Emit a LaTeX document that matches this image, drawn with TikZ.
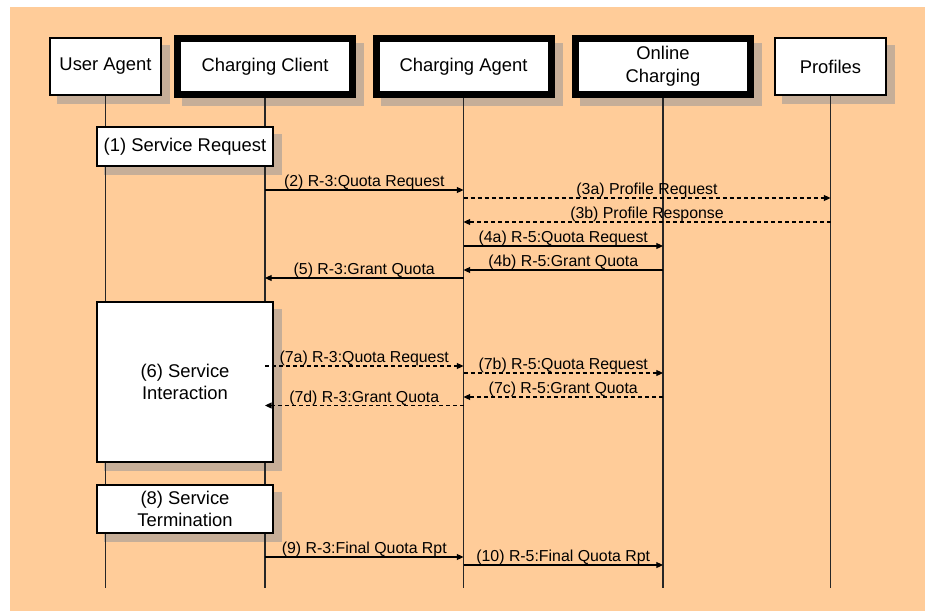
\documentclass[tikz,border=0pt]{standalone}
\usepackage{fontspec}
\setmainfont{Liberation Sans}
\usepackage{xcolor}
\usetikzlibrary{arrows.meta}
\definecolor{peach}{RGB}{255,204,153}
\definecolor{shadowtan}{RGB}{198,174,152}
\pgfdeclarelayer{back}
\pgfdeclarelayer{shade}
\pgfsetlayers{back,shade,main}

\begin{document}
\begin{tikzpicture}[x=0.75pt, y=-0.75pt,
    actor/.style={draw, fill=white, line width=0.8pt, minimum width=83.25pt,
      minimum height=42.75pt, align=center, inner sep=1pt,
      font=\fontsize{13.8}{17}\selectfont},
    bigactor/.style={actor, line width=5.25pt, minimum width=131.25pt, minimum height=42pt},
    phase/.style={actor, minimum width=132pt},
    life/.style={black!85, line width=0.9pt},
    msg/.style={line width=0.8pt, -{Triangle[length=5pt,width=4.5pt]}},
    ret/.style={msg, dash pattern=on 3pt off 2.25pt},
    lbl/.style={anchor=base, yshift=2.4pt, inner sep=0pt, font=\fontsize{11.9}{14}\selectfont}]

  \useasboundingbox (0,0) rectangle (925,611);
  \begin{pgfonlayer}{back}
    \fill[peach] (10,7) rectangle (925,611);
  \end{pgfonlayer}

  % header boxes
  \node[actor]    (ua) at (105.5,66.5) {User Agent};
  \node[bigactor] (cc) at (265,66.5)   {Charging Client};
  \node[bigactor] (ca) at (463.5,66.5) {Charging Agent};
  \node[bigactor] (oc) at (663,66.5)   {Online\\Charging};
  \node[actor]    (pr) at (830.5,66.5) {Profiles};

  % phases
  \node[phase, minimum height=29.25pt] (sreq)  at (185,146.5) {(1) Service Request};
  \node[phase, minimum height=120pt]   (sint)  at (185,382)   {(6) Service\\Interaction};
  \node[phase, minimum height=36pt]    (sterm) at (185,509)   {(8) Service\\Termination};

  \coordinate (bottom) at (0,588);

  \begin{pgfonlayer}{shade}
    \foreach \n in {ua,cc,ca,oc,pr,sreq,sint,sterm}
      \fill[shadowtan] ([shift={(8,8)}]\n.north west) rectangle ([shift={(8,8)}]\n.south east);
    \foreach \n in {ua,cc,ca,oc,pr}
      \draw[life] (\n.south) -- (\n |- bottom);
  \end{pgfonlayer}

  % messages
  \draw[msg] (cc |- 0,190) -- node[lbl] {(2) R-3:Quota Request} (ca |- 0,190);
  \draw[ret] (ca |- 0,198) -- node[lbl] {(3a) Profile Request} (pr |- 0,198);
  \draw[ret] (pr |- 0,222) -- node[lbl] {(3b) Profile Response} (ca |- 0,222);
  \draw[msg] (ca |- 0,246) -- node[lbl] {(4a) R-5:Quota Request} (oc |- 0,246);
  \draw[msg] (oc |- 0,270) -- node[lbl] {(4b) R-5:Grant Quota} (ca |- 0,270);
  \draw[msg] (ca |- 0,278) -- node[lbl] {(5) R-3:Grant Quota} (cc |- 0,278);

  \draw[ret] (cc |- 0,366) -- node[lbl] {(7a) R-3:Quota Request} (ca |- 0,366);
  \draw[ret] (ca |- 0,373) -- node[lbl] {(7b) R-5:Quota Request} (oc |- 0,373);
  \draw[ret] (oc |- 0,397) -- node[lbl] {(7c) R-5:Grant Quota} (ca |- 0,397);
  \draw[ret] (ca |- 0,405.5) -- node[lbl] {(7d) R-3:Grant Quota} (cc |- 0,405.5);

  \draw[msg] (cc |- 0,557) -- node[lbl] {(9) R-3:Final Quota Rpt} (ca |- 0,557);
  \draw[msg] (ca |- 0,565) -- node[lbl] {(10) R-5:Final Quota Rpt} (oc |- 0,565);
\end{tikzpicture}
\end{document}
